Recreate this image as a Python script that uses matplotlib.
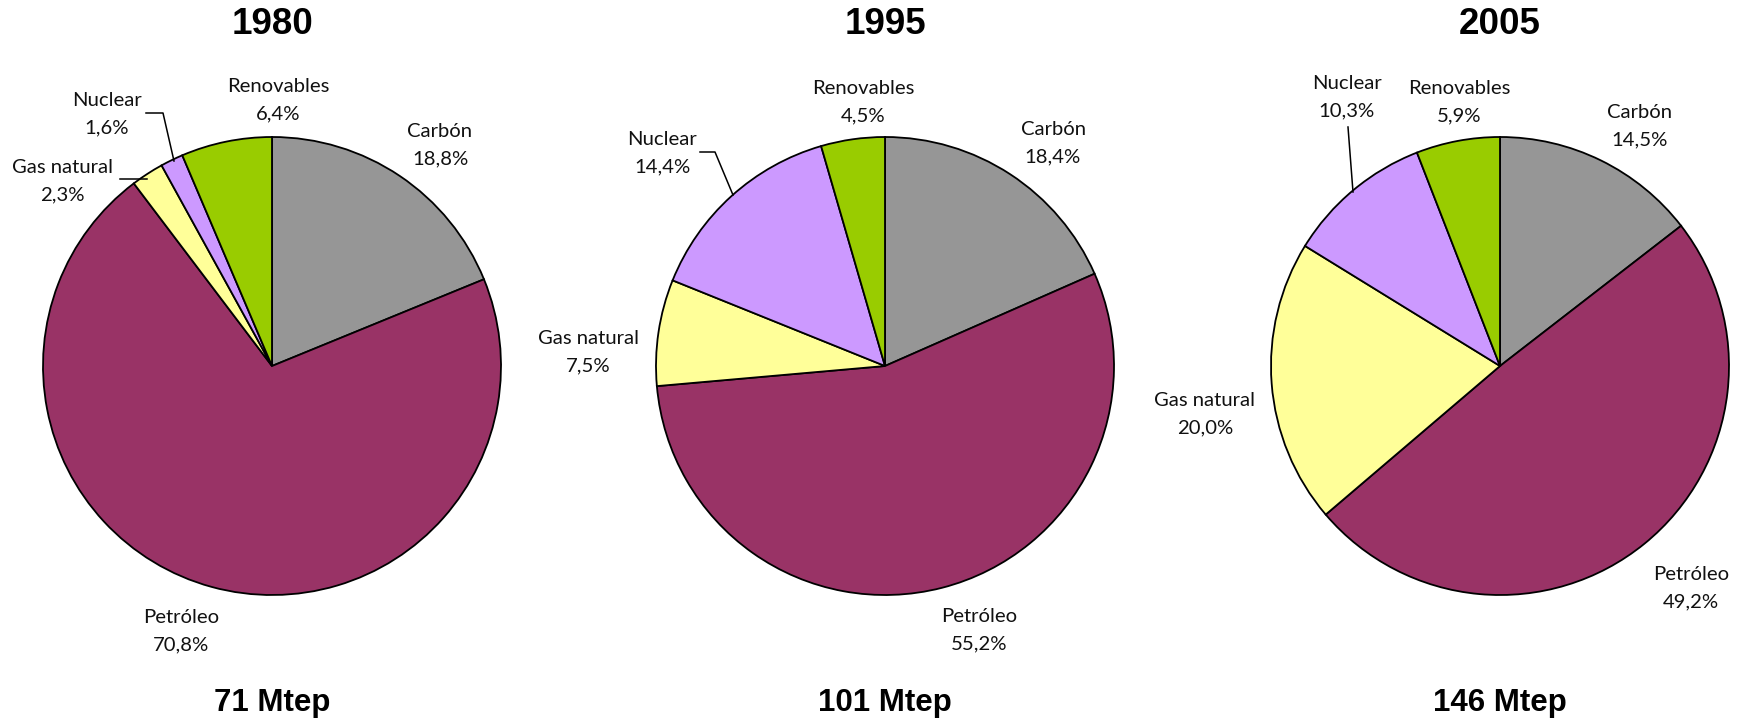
import matplotlib
matplotlib.use("Agg")
import matplotlib.pyplot as plt

years = ["1980", "1995", "2005"]
totals = ["71 Mtep", "101 Mtep", "146 Mtep"]
sources = ["Carbón", "Petróleo", "Gas natural", "Nuclear", "Renovables"]
shares_1980 = [18.8, 70.8, 2.3, 1.6, 6.4]
shares_1995 = [18.4, 55.2, 7.5, 14.4, 4.5]
shares_2005 = [14.5, 49.2, 20.0, 10.3, 5.9]
shares = [shares_1980, shares_1995, shares_2005]
colors = ["#969696", "#993366", "#FFFF99", "#CC99FF", "#99CC00"]

W, H = 1741, 721
# layout in pixels (y from top)
centers = [(272, 366), (885, 366), (1500, 366)]
radius = 229
label_pos = [
    [(440, 145), (181, 631), (62, 181), (107, 114), (278, 100)],
    [(1053, 143), (979, 630), (588, 352), (662, 153), (863, 102)],
    [(1640, 126), (1691, 588), (1205, 414), (1347, 97), (1459, 102)],
]
leaders = [
    [[(146, 113), (163, 113), (174, 161)], [(120, 179), (147, 179)]],
    [[(700, 152), (715, 152), (733, 195)]],
    [[(1348, 127), (1353, 192)]],
]

fig = plt.figure(figsize=(W / 100, H / 100), dpi=100)
ax = fig.add_axes([0, 0, 1, 1])

lab_font = ["Lato", "DejaVu Sans"]
for i in range(3):
    cx, cy = centers[i]
    ax.pie(shares[i], center=(cx, H - cy), radius=radius, startangle=90,
           counterclock=False, colors=colors, frame=True,
           wedgeprops=dict(edgecolor="black", linewidth=1.3))
    for j, name in enumerate(sources):
        lx, ly = label_pos[i][j]
        txt = name + "\n" + ("%.1f%%" % shares[i][j]).replace(".", ",")
        ax.text(lx, H - ly, txt, ha="center", va="center", fontsize=14.6,
                family=lab_font, linespacing=1.75, color="#111111")
    for pts in leaders[i]:
        ax.plot([p[0] for p in pts], [H - p[1] for p in pts], color="black", lw=1.1)
    ax.text(cx, H - 25, years[i], ha="center", va="center", fontsize=26.5,
            fontweight="bold", family="Liberation Sans")
    ax.text(cx, H - 703, totals[i], ha="center", va="center", fontsize=22.5,
            fontweight="bold", family="Liberation Sans")

ax.set_xlim(0, W)
ax.set_ylim(0, H)
ax.set_aspect("auto")
ax.axis("off")
fig.savefig("out.png", dpi=100)
